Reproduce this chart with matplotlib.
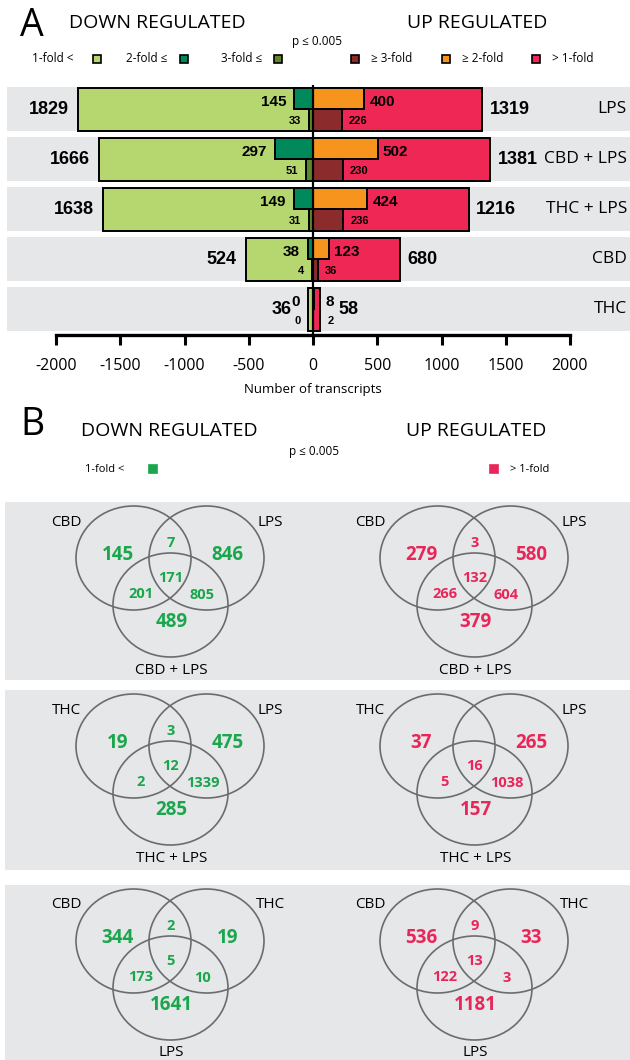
import matplotlib
matplotlib.use('Agg')
import matplotlib.pyplot as plt
from matplotlib.patches import Rectangle, Ellipse
from matplotlib.transforms import blended_transform_factory

W, H = 630, 1060

# ---- panel A data (number of transcripts) ----
conditions = ['LPS', 'CBD + LPS', 'THC + LPS', 'CBD', 'THC']
down_total = [1829, 1666, 1638, 524, 36]
down_2fold = [145, 297, 149, 38, 0]
down_3fold = [33, 51, 31, 4, 0]
up_total = [1319, 1381, 1216, 680, 58]
up_2fold = [400, 502, 424, 123, 8]
up_3fold = [226, 230, 236, 36, 2]
xticks = [-2000, -1500, -1000, -500, 0, 500, 1000, 1500, 2000]

# ---- panel B data (venn regions: A only, A&B, B only, all, A&C, B&C, C only) ----
venn_sets = [('CBD', 'LPS', 'CBD + LPS'),
             ('THC', 'LPS', 'THC + LPS'),
             ('CBD', 'THC', 'LPS')]
venn_down = [[145, 7, 846, 171, 201, 805, 489],
             [19, 3, 475, 12, 2, 1339, 285],
             [344, 2, 19, 5, 173, 10, 1641]]
venn_up = [[279, 3, 580, 132, 266, 604, 379],
           [37, None, 265, 16, 5, 1038, 157],
           [536, 9, 33, 13, 122, 3, 1181]]

LIGHT_GREEN = '#b6d670'
DARK_GREEN = '#008a5c'
OLIVE = '#5f862c'
DARK_RED = '#8c2b2b'
ORANGE = '#f7941d'
PINK = '#ee2755'
GRAY = '#e6e7e9'
VENN_GREEN = '#1aa64c'
VENN_PINK = '#e8265a'
CIRCLE = '#6b6c6e'

TXT = ['Open Sans', 'DejaVu Sans']
NUM = ['Liberation Sans Narrow', 'Liberation Sans', 'DejaVu Sans']

plt.rcParams['font.family'] = TXT
plt.rcParams['axes.unicode_minus'] = False

fig = plt.figure(figsize=(W / 100, H / 100), dpi=100)

# overlay in pixel coordinates for headings, legends and panel B
ov = fig.add_axes([0, 0, 1, 1])
ov.set_xlim(0, W)
ov.set_ylim(H, 0)
ov.axis('off')


def square(x, y, color, edge=True, size=8):
    ov.add_patch(Rectangle((x - size / 2, y - size / 2), size, size, facecolor=color,
                           edgecolor='black' if edge else color, lw=1.2))


# ---- panel A headings ----
ov.text(20, 26, 'A', fontsize=27, ha='left', va='center')
ov.text(157, 23, 'DOWN REGULATED', fontsize=14, ha='center', va='center')
ov.text(477, 23, 'UP REGULATED', fontsize=14, ha='center', va='center')
ov.text(317, 41, 'p ≤ 0.005', fontsize=8.5, ha='center', va='center')

leg_down = [('1-fold <', 74, 97, LIGHT_GREEN), ('2-fold ≤', 167, 184, DARK_GREEN),
            ('3-fold ≤', 262, 278, OLIVE)]
for lab, tx, sx, c in leg_down:
    ov.text(tx, 59, lab, fontsize=8.5, ha='right', va='center')
    square(sx, 59, c)
leg_up = [('≥ 3-fold', 355, 371, DARK_RED), ('≥ 2-fold', 446, 462, ORANGE),
          ('> 1-fold', 536, 552, PINK)]
for lab, sx, tx, c in leg_up:
    square(sx, 59, c)
    ov.text(tx, 59, lab, fontsize=8.5, ha='left', va='center')

# ---- panel A bars ----
x0_px, s = 313, 514 / 4000
ax = fig.add_axes([7 / W, 1 - 335 / H, 623 / W, 250 / H])
ax.patch.set_visible(False)
ax.set_xlim((7 - x0_px) / s, (630 - x0_px) / s)
ax.set_ylim(len(conditions) - 0.48, -0.48)

rows = list(range(len(conditions)))
bh = 0.86
for i in rows:
    ax.axhspan(i - 0.445, i + 0.445, color=GRAY, zorder=0, lw=0)

neg = lambda v: [-x for x in v]
kw = dict(edgecolor='black', linewidth=1.4, zorder=2)
ax.barh(rows, neg(down_total), height=bh, color=LIGHT_GREEN, **kw)
ax.barh([i - bh / 4 for i in rows], neg(down_2fold), height=bh / 2, color=DARK_GREEN, **kw)
ax.barh([i + bh / 4 for i in rows], neg(down_3fold), height=bh / 2, color=OLIVE, **kw)
ax.barh(rows, up_total, height=bh, color=PINK, **kw)
ax.barh([i - bh / 4 for i in rows], up_2fold, height=bh / 2, color=ORANGE, **kw)
ax.barh([i + bh / 4 for i in rows], up_3fold, height=bh / 2, color=DARK_RED, **kw)
ax.axvline(0, color='black', lw=1.6, zorder=3)

for i in rows:
    small = down_total[i] < 100
    a_dn = -down_total[i] if small else -down_2fold[i]
    a_dn3 = -down_total[i] if small else -down_3fold[i]
    ax.annotate(str(down_total[i]), (-down_total[i], i), xytext=(-(17 if small else 9), 0),
                textcoords='offset pixels', ha='right', va='center',
                fontsize=13, fontweight='bold', family=NUM)
    ax.annotate(str(down_2fold[i]), (a_dn, i - 0.14), xytext=(-8, 0),
                textcoords='offset pixels', ha='right', va='center',
                fontsize=11, fontweight='bold', family=NUM)
    ax.annotate(str(down_3fold[i]), (a_dn3, i + 0.25), xytext=(-8, 0),
                textcoords='offset pixels', ha='right', va='center',
                fontsize=8, fontweight='bold', family=NUM)
    small = up_total[i] < 100
    a_up = up_total[i] if small else up_2fold[i]
    a_up3 = up_total[i] if small else up_3fold[i]
    ax.annotate(str(up_total[i]), (up_total[i], i), xytext=(18 if small else 7, 0),
                textcoords='offset pixels', ha='left', va='center',
                fontsize=13, fontweight='bold', family=NUM)
    ax.annotate(str(up_2fold[i]), (a_up, i - 0.14), xytext=(5, 0),
                textcoords='offset pixels', ha='left', va='center',
                fontsize=11, fontweight='bold', family=NUM)
    ax.annotate(str(up_3fold[i]), (a_up3, i + 0.25), xytext=(7, 0),
                textcoords='offset pixels', ha='left', va='center',
                fontsize=8, fontweight='bold', family=NUM)

tr = blended_transform_factory(ax.transAxes, ax.transData)
for i, name in enumerate(conditions):
    ax.text(0.995, i, name, transform=tr, ha='right', va='center', fontsize=12.5)

for side in ['left', 'right', 'top']:
    ax.spines[side].set_visible(False)
ax.spines['bottom'].set_bounds(-2000, 2000)
ax.spines['bottom'].set_linewidth(2.4)
ax.set_yticks([])
ax.set_xticks(xticks)
ax.set_xticklabels([str(t) for t in xticks])
ax.tick_params(axis='x', length=7, width=2.2, pad=9.5, labelsize=11.5)
ov.text(313, 389, 'Number of transcripts', fontsize=9.5, ha='center', va='center')

# ---- panel B headings ----
ov.text(20, 425, 'B', fontsize=27, ha='left', va='center')
ov.text(169, 431, 'DOWN REGULATED', fontsize=14, ha='center', va='center')
ov.text(476, 431, 'UP REGULATED', fontsize=14, ha='center', va='center')
ov.text(314, 451, 'p ≤ 0.005', fontsize=8.5, ha='center', va='center')
ov.text(124, 469, '1-fold <', fontsize=8, ha='right', va='center')
square(153, 469, VENN_GREEN, edge=False)
square(494, 469, VENN_PINK, edge=False)
ov.text(510, 469, '> 1-fold', fontsize=8, ha='left', va='center')

# ---- panel B venns ----
box_tops = [502, 690, 885]
box_bottoms = [680, 870, 1062]
region_off = [(-16, -3), (37, -15), (94, -3), (37, 20), (7, 36), (69, 37), (38, 64)]
region_big = [True, False, True, False, False, False, True]

for k in range(3):
    top = box_tops[k]
    ov.add_patch(Rectangle((5, top), W - 5, box_bottoms[k] - top, color=GRAY, lw=0, zorder=0))
    cy = top + 56
    for cl, vals, col in [(133.5, venn_down[k], VENN_GREEN), (437.5, venn_up[k], VENN_PINK)]:
        for dx, dy in [(0, 0), (73, 0), (37, 47)]:
            ov.add_patch(Ellipse((cl + dx, cy + dy), 115, 104, fill=False,
                                 edgecolor=CIRCLE, lw=1.2, zorder=2))
        a, b, c = venn_sets[k]
        ov.text(cl - 67, cy - 36, a, fontsize=11, ha='center', va='center')
        ov.text(cl + 137, cy - 36, b, fontsize=11, ha='center', va='center')
        ov.text(cl + 38, cy + 112, c, fontsize=11, ha='center', va='center')
        for v, (dx, dy), big in zip(vals, region_off, region_big):
            if v is None:
                continue
            ov.text(cl + dx, cy + dy, str(v), color=col, fontweight='bold',
                    fontsize=13.5 if big else 10.5, ha='center', va='center', zorder=3)

fig.savefig('out.png', dpi=100)
